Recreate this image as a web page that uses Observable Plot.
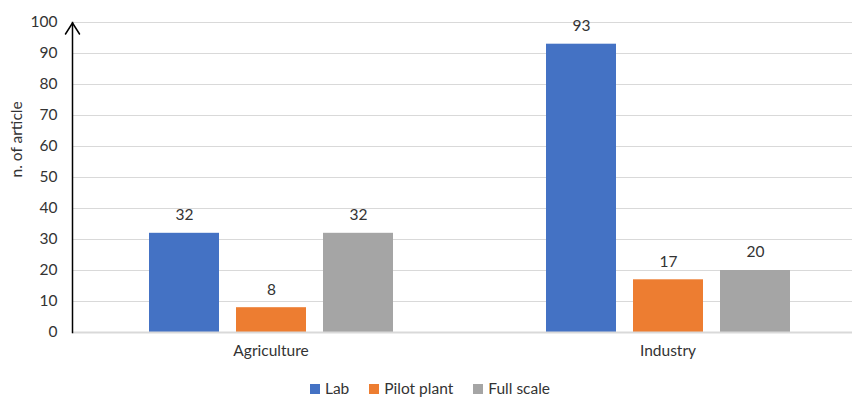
<!DOCTYPE html>
<html>
<head>
<meta charset="utf-8">
<script src="https://cdn.jsdelivr.net/npm/d3@7"></script>
<script src="https://cdn.jsdelivr.net/npm/@observablehq/plot@0.6"></script>
<style>
  html, body { margin: 0; padding: 0; background: #fff; overflow: hidden; }
  body { width: 852px; height: 397px; font-family: Lato, "Open Sans", sans-serif; }
  #legend { display: flex; justify-content: center; gap: 20px; font-size: 15.5px; line-height: 17px; color: #333; margin-top: 10px; padding-left: 8px; }
  #legend span.item { display: flex; align-items: center; gap: 5px; }
  #legend span.sw { width: 10px; height: 10px; display: inline-block; }
</style>
</head>
<body>
<div id="chart"></div>
<div id="legend"></div>
<script>
// Number of articles per application field and scale of study
const sectors = ["Agriculture", "Industry"];
const scales = ["Lab", "Pilot plant", "Full scale"];
const agricultureCounts = [32, 8, 32];
const industryCounts = [93, 17, 20];
const colors = ["#4472C4", "#ED7D31", "#A5A5A5"];
const yTicks = [0, 10, 20, 30, 40, 50, 60, 70, 80, 90, 100];

const rows = [
  ...scales.map((s, i) => ({sector: "Agriculture", scale: s, value: agricultureCounts[i]})),
  ...scales.map((s, i) => ({sector: "Industry", scale: s, value: industryCounts[i]}))
];

const textColor = "#333";
const gridColor = "#d9d9d9";
const fontSize = 15.5;

// open chevron used as the arrowhead on top of the value axis
const chevron = {
  draw(context) {
    context.moveTo(-7, 11);
    context.lineTo(0, 0);
    context.lineTo(7, 11);
  }
};

const chart = Plot.plot({
  width: 852,
  height: 370,
  marginLeft: 72,
  marginRight: 0,
  marginTop: 22,
  marginBottom: 38,
  style: {fontFamily: "Lato, 'Open Sans', sans-serif", fontSize: fontSize + "px", color: textColor, background: "#fff"},
  fx: {domain: sectors, range: [72, 866], padding: 0, label: null},
  x: {domain: scales, paddingInner: 0.2, paddingOuter: 0.856, axis: null},
  y: {domain: [0, 100], axis: null},
  color: {domain: scales, range: colors},
  marks: [
    Plot.ruleY(yTicks.slice(1), {stroke: gridColor, strokeWidth: 1}),
    Plot.barY(rows, {fx: "sector", x: "scale", y: "value", fill: "scale"}),
    Plot.text(rows, {fx: "sector", x: "scale", y: "value", text: d => String(d.value), dy: -18, fill: textColor, fontSize}),
    Plot.ruleY([0], {stroke: gridColor, strokeWidth: 2}),
    Plot.axisY({ticks: yTicks, tickSize: 0, tickPadding: 15, label: null, fontSize, fill: textColor}),
    Plot.axisFx({anchor: "bottom", tickSize: 0, tickPadding: 12, label: null, fontSize, fill: textColor}),
    Plot.frame({anchor: "left", facetAnchor: "left", stroke: "#000", strokeWidth: 1.5}),
    Plot.vector([{sector: "Agriculture", v: 100}], {fx: "sector", y: "v", frameAnchor: "left", shape: chevron, stroke: "#000", strokeWidth: 1.5, length: 1}),
    Plot.text([{sector: "Agriculture", t: "n. of article"}], {fx: "sector", text: "t", frameAnchor: "left", rotate: -90, dx: -55, fill: textColor, fontSize})
  ]
});
document.getElementById("chart").appendChild(chart);

// legend below the chart
const legend = document.getElementById("legend");
scales.forEach((s, i) => {
  const item = document.createElement("span");
  item.className = "item";
  const sw = document.createElement("span");
  sw.className = "sw";
  sw.style.background = colors[i];
  item.appendChild(sw);
  item.appendChild(document.createTextNode(s));
  legend.appendChild(item);
});
</script>
</body>
</html>
